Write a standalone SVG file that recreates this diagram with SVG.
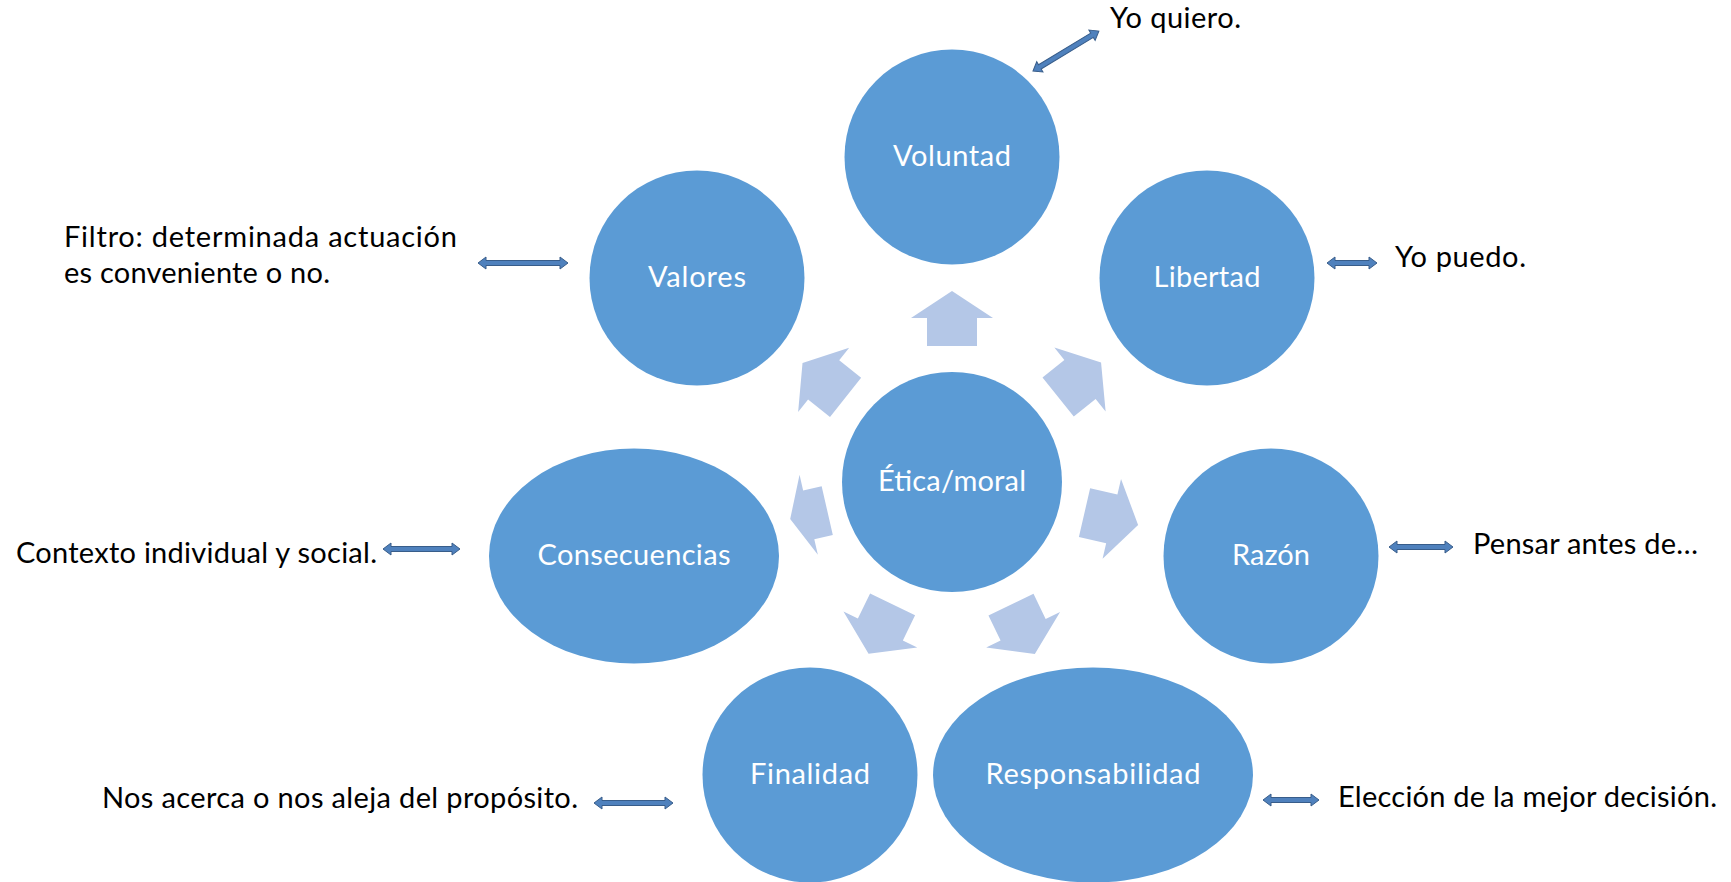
<svg xmlns="http://www.w3.org/2000/svg" xmlns:xlink="http://www.w3.org/1999/xlink" width="1731" height="882" viewBox="0 0 1731 882">
  <style>
    .node { fill: #5B9BD5; }
    .ntext { font-family: Lato, "Open Sans", "Liberation Sans", sans-serif; font-size: 29px; fill: #FFFFFF; text-anchor: middle; }
    .ltext { font-family: Lato, "Open Sans", "Liberation Sans", sans-serif; font-size: 29px; fill: #000000; }
    .blk { fill: #B4C7E7; }
    .dbl { fill: #4F81BD; stroke: #385D8A; stroke-width: 1; stroke-linejoin: miter; }
  </style>
  <defs>
    <polygon id="arr" points="0,-191 41,-164 25,-164 25,-136 -25,-136 -25,-164 -41,-164"/>
    <polygon id="arrShort" points="0,-166 41,-147 25,-147 25,-128 -25,-128 -25,-147 -41,-147"/>
  </defs>
  <rect width="1731" height="882" fill="#FFFFFF"/>

  <g id="connectors">
    <g class="blk">
      <use xlink:href="#arr" href="#arr" transform="translate(952,482) rotate(0)"/>
      <use xlink:href="#arr" href="#arr" transform="translate(952,482) rotate(51.3)"/>
      <use xlink:href="#arr" href="#arr" transform="translate(952,482) rotate(103)"/>
      <use xlink:href="#arr" href="#arr" transform="translate(952,482) rotate(154.3)"/>
      <use xlink:href="#arr" href="#arr" transform="translate(952,482) rotate(205.9)"/>
      <use xlink:href="#arrShort" href="#arrShort" transform="translate(952,482) rotate(257.1)"/>
      <use xlink:href="#arr" href="#arr" transform="translate(952,482) rotate(308.5)"/>
    </g>
    <g class="dbl">
      <polygon transform="translate(1033,71) rotate(-31.2)" points="0,0 8,-6 8,-2.5 69,-2.5 69,-6 77,0 69,6 69,2.5 8,2.5 8,6"/>
      <polygon points="478,263 486,257 486,260.5 560,260.5 560,257 568,263 560,269 560,265.5 486,265.5 486,269"/>
      <polygon points="1327,263 1335,257 1335,260.5 1369,260.5 1369,257 1377,263 1369,269 1369,265.5 1335,265.5 1335,269"/>
      <polygon points="383,549 391,543 391,546.5 452,546.5 452,543 460,549 452,555 452,551.5 391,551.5 391,555"/>
      <polygon points="1389,547 1397,541 1397,544.5 1445,544.5 1445,541 1453,547 1445,553 1445,549.5 1397,549.5 1397,553"/>
      <polygon points="594,803 602,797 602,800.5 665,800.5 665,797 673,803 665,809 665,805.5 602,805.5 602,809"/>
      <polygon points="1263,800 1271,794 1271,797.5 1311,797.5 1311,794 1319,800 1311,806 1311,802.5 1271,802.5 1271,806"/>
    </g>
  </g>

  <g id="node-etica">
    <circle class="node" cx="952" cy="482" r="110"/>
    <text class="ntext" x="952" y="491" textLength="148">Ética/moral</text>
  </g>
  <g id="node-voluntad">
    <circle class="node" cx="952" cy="157" r="107.5"/>
    <text class="ntext" x="952" y="166" textLength="118">Voluntad</text>
  </g>
  <g id="node-valores">
    <circle class="node" cx="697" cy="278" r="107.5"/>
    <text class="ntext" x="697" y="287" textLength="98">Valores</text>
  </g>
  <g id="node-libertad">
    <circle class="node" cx="1207" cy="278" r="107.5"/>
    <text class="ntext" x="1207" y="287" textLength="107">Libertad</text>
  </g>
  <g id="node-consecuencias">
    <ellipse class="node" cx="634" cy="556" rx="145" ry="107.5"/>
    <text class="ntext" x="634" y="565" textLength="193">Consecuencias</text>
  </g>
  <g id="node-razon">
    <circle class="node" cx="1271" cy="556" r="107.5"/>
    <text class="ntext" x="1271" y="565" textLength="78">Razón</text>
  </g>
  <g id="node-finalidad">
    <circle class="node" cx="810" cy="775" r="107.5"/>
    <text class="ntext" x="810" y="784" textLength="120">Finalidad</text>
  </g>
  <g id="node-responsabilidad">
    <ellipse class="node" cx="1093" cy="775" rx="160" ry="107.5"/>
    <text class="ntext" x="1093" y="784" textLength="215">Responsabilidad</text>
  </g>

  <g id="label-voluntad">
    <text class="ltext" x="1110" y="28" textLength="131">Yo quiero.</text>
  </g>
  <g id="label-valores">
    <text class="ltext" x="64" y="247" textLength="393">Filtro: determinada actuación</text>
    <text class="ltext" x="64" y="283" textLength="266">es conveniente o no.</text>
  </g>
  <g id="label-libertad">
    <text class="ltext" x="1395" y="267" textLength="131">Yo puedo.</text>
  </g>
  <g id="label-consecuencias">
    <text class="ltext" x="16" y="563" textLength="361">Contexto individual y social.</text>
  </g>
  <g id="label-razon">
    <text class="ltext" x="1473" y="554" textLength="225">Pensar antes de…</text>
  </g>
  <g id="label-finalidad">
    <text class="ltext" x="102" y="808" textLength="476">Nos acerca o nos aleja del propósito.</text>
  </g>
  <g id="label-responsabilidad">
    <text class="ltext" x="1338" y="807" textLength="379">Elección de la mejor decisión.</text>
  </g>
</svg>
